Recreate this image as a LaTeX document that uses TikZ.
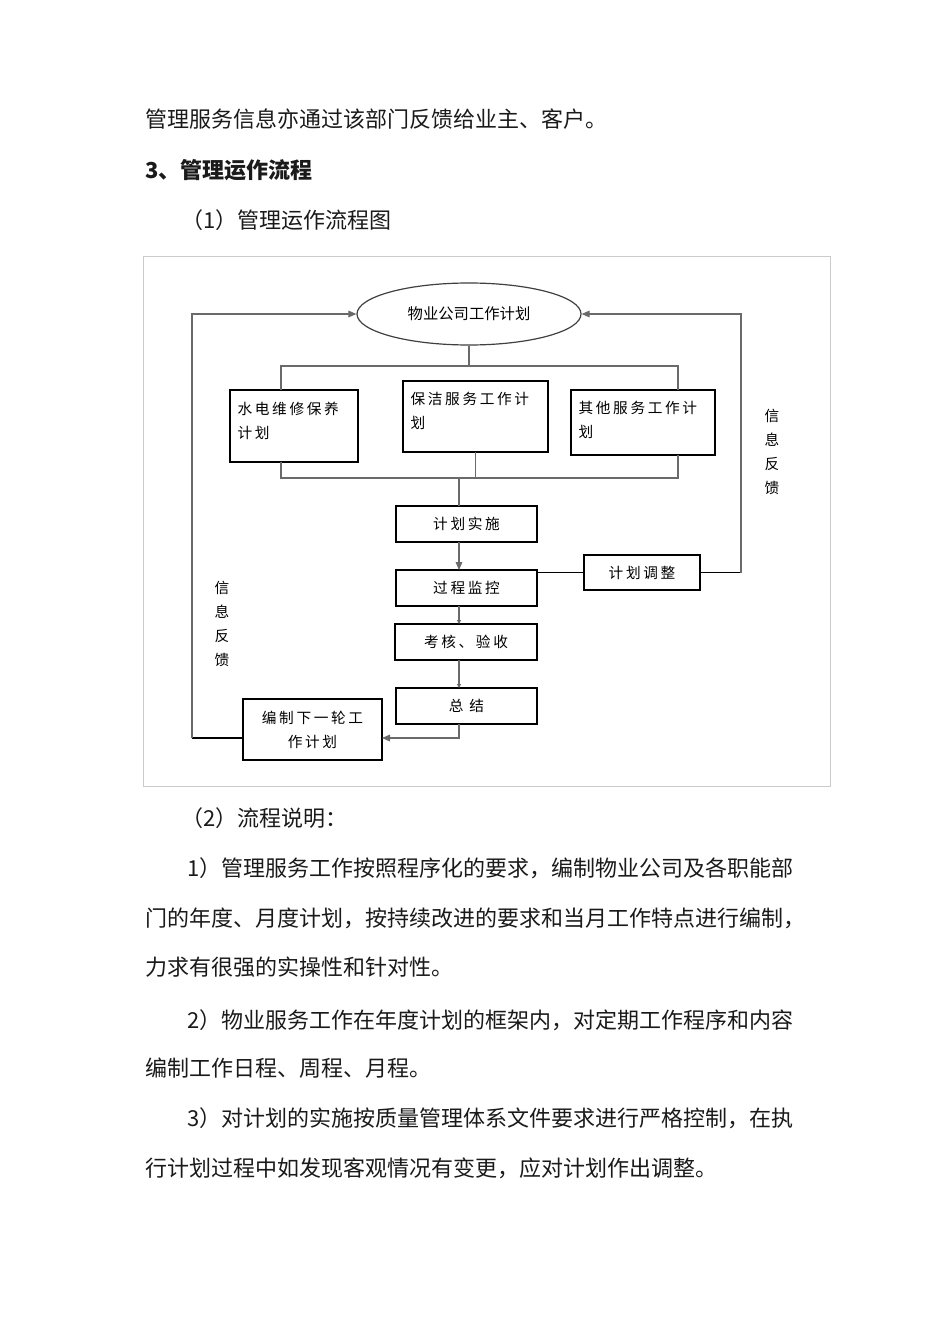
\documentclass[tikz,border=0pt]{standalone}
\usepackage{fontspec}
\setmainfont{Noto Sans CJK SC}
\newfontfamily\chartfont[LetterSpace=18]{Noto Sans CJK SC}
\usetikzlibrary{arrows.meta,shapes.geometric}
\definecolor{PageInk}{HTML}{1A1A1A}
\definecolor{LinkGray}{HTML}{6A6A6A}
\definecolor{FrameGray}{HTML}{CBCBCB}
\newdimen\pxu \pxu=0.75pt

\begin{document}
\begin{tikzpicture}[x=0.75pt, y=-0.75pt, >={Triangle[length=6pt,width=5pt]},
    body/.style={anchor=west, inner sep=0pt, text=PageInk, font=\fontsize{16.5}{20}\selectfont, text height=14pt, text depth=2pt},
    stepbox/.style={draw=black, line width=0.9pt, inner sep=0pt, outer sep=0pt, font=\chartfont\fontsize{11}{18}\selectfont, align=center},
    boxlabel/.style={anchor=north west, inner sep=0pt, align=left, xshift=5.5pt, yshift=-8.5pt, font=\chartfont\fontsize{11}{18}\selectfont},
    link/.style={draw=LinkGray, line width=0.8pt},
    heavy/.style={draw=black, line width=1.3pt},
    side/.style={inner sep=0pt, align=center, font=\fontsize{11}{18}\selectfont}]
    \useasboundingbox (0,0) rectangle (950,1344);
    \fill[white] (0,0) rectangle (950,1344);

    % Text above the chart
    \node[body] (t1) at (145,120) {管理服务信息亦通过该部门反馈给业主、客户。};
    \node[body, font=\fontsize{16.5}{20}\selectfont\bfseries] (t2) at (145,171) {3、管理运作流程};
    \node[body] (t3) at (181,221) {（1）管理运作流程图};

    % Frame
    \draw[FrameGray, line width=0.75pt] (143,257) rectangle (830,786);

    % Plan and the three sub-plans
    \node[ellipse, draw=black!75, line width=0.9pt, minimum width=224\pxu, minimum height=62\pxu, inner sep=0pt, font=\fontsize{11.5}{14}\selectfont] (plan) at (469,314) {物业公司工作计划};
    \node[stepbox, minimum width=128\pxu, minimum height=72\pxu, label={[boxlabel]north west:水电维修保养\\计划}] (water) at (294,426) {};
    \node[stepbox, minimum width=145\pxu, minimum height=71\pxu, label={[boxlabel]north west:保洁服务工作计\\划}] (clean) at (475.5,416.5) {};
    \node[stepbox, minimum width=144\pxu, minimum height=65\pxu, label={[boxlabel]north west:其他服务工作计\\划}] (other) at (643,422.5) {};

    % Main chain
    \node[stepbox, minimum width=141\pxu, minimum height=36\pxu] (impl) at (466.5,524) {计划实施};
    \node[stepbox, minimum width=141\pxu, minimum height=36\pxu] (monitor) at (466.5,588) {过程监控};
    \node[stepbox, minimum width=116\pxu, minimum height=35\pxu] (adjust) at (642,572.5) {计划调整};
    \node[stepbox, minimum width=142\pxu, minimum height=36\pxu] (check) at (466,642) {考核、验收};
    \node[stepbox, minimum width=141\pxu, minimum height=36\pxu] (summary) at (466.5,706) {总 结};
    \node[stepbox, minimum width=139\pxu, minimum height=61\pxu] (next) at (312.5,729.5) {编制下一轮工\\作计划};

    % Feedback labels
    \node[side] (fbTextL) at (222,624) {信\\息\\反\\馈};
    \node[side] (fbTextR) at (772,452) {信\\息\\反\\馈};

    % Bus lines
    \coordinate (busTL) at (281,366);
    \coordinate (busTR) at (678,366);
    \coordinate (busBL) at (281,478);
    \coordinate (busBR) at (678,478);
    \coordinate (spine) at (459,478);
    \coordinate (fbL) at (192,738);
    \coordinate (fbR) at (741,574);

    \draw[link] (plan.south) -- (plan.south |- busTL);
    \draw[link] (water.north -| busTL) -- (busTL) -- (busTR) -- (other.north -| busTR);
    \draw[link] (water.south -| busBL) -- (busBL) -- (busBR) -- (other.south -| busBR);
    \draw[link] (clean.south) -- (clean.south |- busBL);

    % Chain connectors
    \draw[link] (spine) -- (impl.north -| spine);
    \draw[link, ->] (impl.south -| spine) -- (monitor.north -| spine);
    \draw[link, -{Triangle[length=3pt,width=3pt]}] (monitor.south -| spine) -- (check.north -| spine);
    \draw[link, -{Triangle[length=3pt,width=3pt]}] (check.south -| spine) -- (summary.north -| spine);
    \draw[link, ->] (summary.south -| spine) |- (next.east |- fbL);

    % Feedback loops
    \draw[heavy] (next.west |- fbL) -- (fbL);
    \draw[link, ->] (fbL) |- (plan.west);
    \draw[heavy] (monitor.east |- adjust.west) -- (adjust.west);
    \draw[heavy] (adjust.east) -- (adjust.east -| fbR);
    \draw[link, ->] (adjust.east -| fbR) |- (plan.east);

    % Text below the chart
    \node[body] (t4) at (181,818) {（2）流程说明：};
    \node[body] (t5) at (187,868) {1）管理服务工作按照程序化的要求，编制物业公司及各职能部};
    \node[body] (t6) at (145,918) {门的年度、月度计划，按持续改进的要求和当月工作特点进行编制，};
    \node[body] (t7) at (145,967) {力求有很强的实操性和针对性。};
    \node[body] (t8) at (187,1020) {2）物业服务工作在年度计划的框架内，对定期工作程序和内容};
    \node[body] (t9) at (145,1068) {编制工作日程、周程、月程。};
    \node[body] (t10) at (187,1118) {3）对计划的实施按质量管理体系文件要求进行严格控制，在执};
    \node[body] (t11) at (145,1168) {行计划过程中如发现客观情况有变更，应对计划作出调整。};
\end{tikzpicture}
\end{document}
